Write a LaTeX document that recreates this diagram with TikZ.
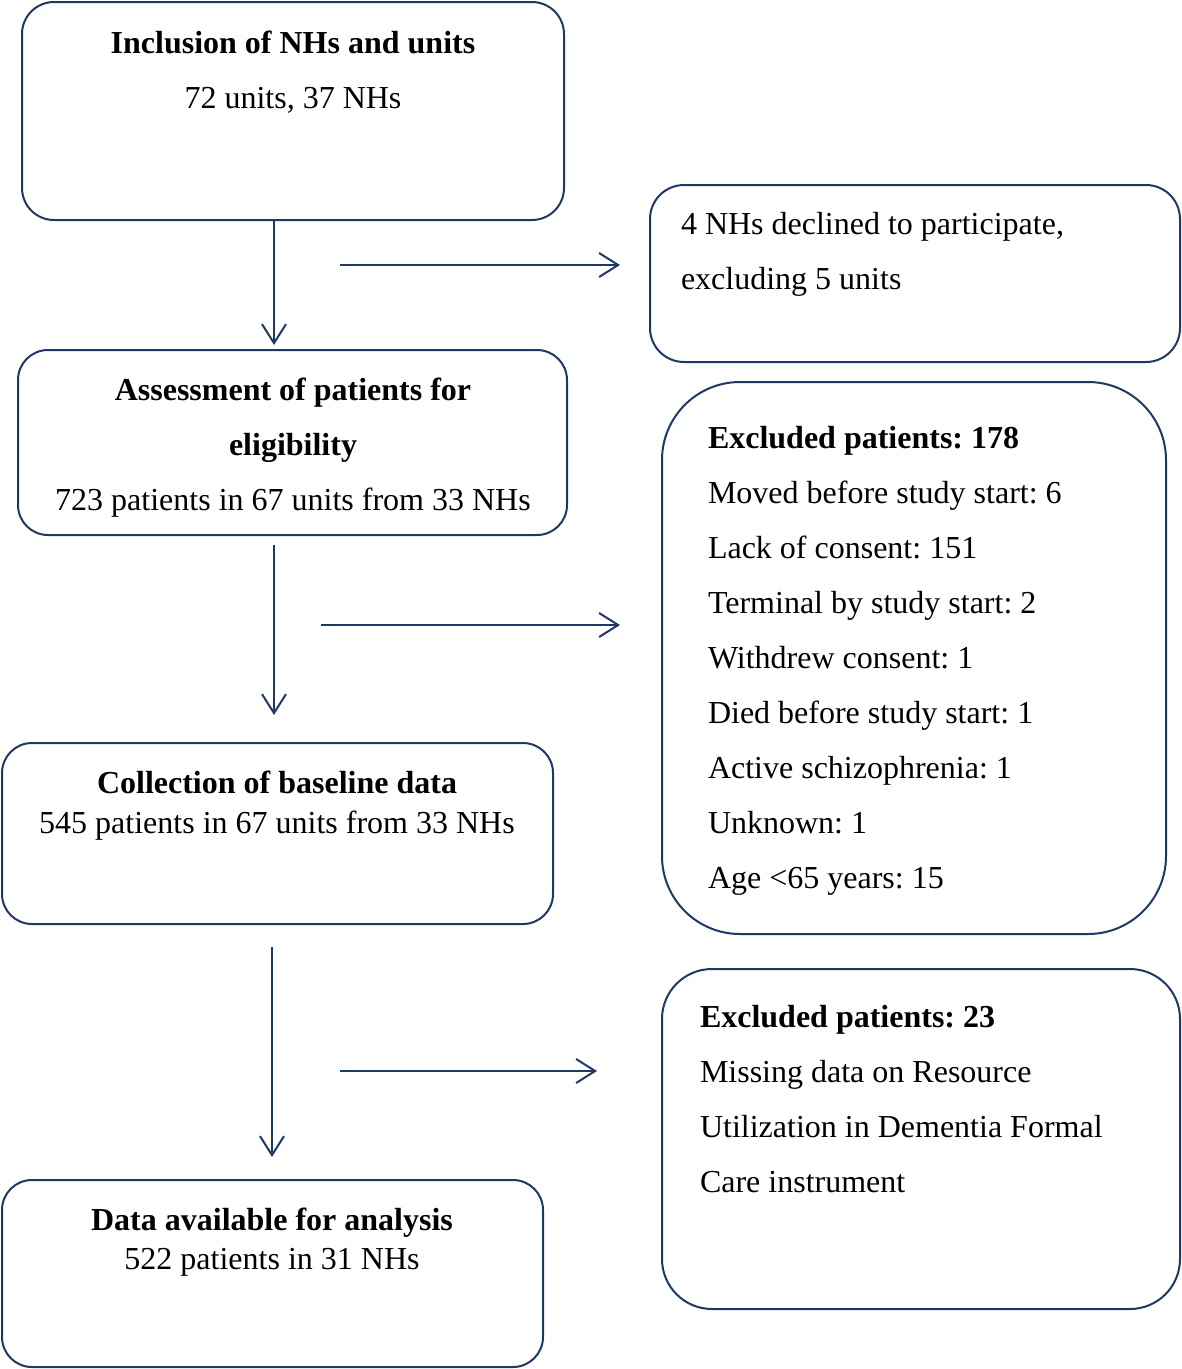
\documentclass[tikz,border=0pt]{standalone}
\usepackage{fontspec}
\setmainfont{Liberation Serif}
\usetikzlibrary{arrows.meta,calc}
\definecolor{navy}{RGB}{31,56,100}
\frenchspacing
\begin{document}
\begin{tikzpicture}[x=1pt,y=-1pt,
  box/.style={draw=navy,line width=2pt,inner sep=0pt,outer sep=0pt,fill=none},
  arr/.style={draw=navy,line width=2pt,-{Straight Barb[length=19pt,width=24pt]}},
  txt/.style={inner sep=0pt,outer sep=0pt,font=\fontsize{32}{38}\selectfont},
  ctr/.style={txt,anchor=base},
  lft/.style={txt,anchor=base west}]
\useasboundingbox (0,0) rectangle (1182,1369);
% boxes
\node[box,rounded corners=32pt,minimum width=542pt,minimum height=218pt] (b1) at (293,111) {};
\node[box,rounded corners=34pt,minimum width=530pt,minimum height=177pt] (b2) at (915,273.5) {};
\node[box,rounded corners=30pt,minimum width=549pt,minimum height=185pt] (b3) at (292.5,442.5) {};
\node[box,rounded corners=78pt,minimum width=504pt,minimum height=552pt] (b4) at (914,658) {};
\node[box,rounded corners=30pt,minimum width=551pt,minimum height=181pt] (b5) at (277.5,833.5) {};
\node[box,rounded corners=50pt,minimum width=518pt,minimum height=340pt] (b6) at (921,1139) {};
\node[box,rounded corners=30pt,minimum width=541pt,minimum height=187pt] (b7) at (272.5,1273.5) {};
% texts
\node[ctr] (t1a) at (293,53) {\bfseries Inclusion of NHs and units};
\node[ctr] (t1b) at (293,108) {72 units, 37 NHs};
\node[lft] (t2a) at (681,234) {4 NHs declined to participate,};
\node[lft] (t2b) at (681,289) {excluding 5 units};
\node[ctr] (t3a) at (293,400) {\bfseries Assessment of patients for};
\node[ctr] (t3b) at (293,455) {\bfseries eligibility};
\node[ctr] (t3c) at (293,510) {723 patients in 67 units from 33 NHs};
\node[lft] (t4a) at (708,448) {\bfseries Excluded patients: 178};
\node[lft] (t4b) at (708,503) {Moved before study start: 6};
\node[lft] (t4c) at (708,558) {Lack of consent: 151};
\node[lft] (t4d) at (708,613) {Terminal by study start: 2};
\node[lft] (t4e) at (708,668) {Withdrew consent: 1};
\node[lft] (t4f) at (708,723) {Died before study start: 1};
\node[lft] (t4g) at (708,778) {Active schizophrenia: 1};
\node[lft] (t4h) at (708,833) {Unknown: 1};
\node[lft] (t4i) at (708,888) {Age <65 years: 15};
\node[ctr] (t5a) at (277,793) {\bfseries Collection of baseline data};
\node[ctr] (t5b) at (277,833) {545 patients in 67 units from 33 NHs};
\node[lft] (t6a) at (700,1027) {\bfseries Excluded patients: 23};
\node[lft] (t6b) at (700,1082) {Missing data on Resource};
\node[lft] (t6c) at (700,1137) {Utilization in Dementia Formal};
\node[lft] (t6d) at (700,1192) {Care instrument};
\node[ctr] (t7a) at (272,1230) {\bfseries Data available for analysis};
\node[ctr] (t7b) at (272,1269) {522 patients in 31 NHs};
% connectors
\coordinate (v1) at (274,0);
\coordinate (v3) at (272,0);
\coordinate (h1) at (340,265);
\coordinate (h2) at (321,625);
\coordinate (h3) at (340,1071);
\draw[arr] (b1.south -| v1) -- ($(b3.north -| v1)+(0,-5)$);
\draw[arr] ($(b3.south -| v1)+(0,10)$) -- ($(b5.north -| v1)+(0,-28)$);
\draw[arr] ($(b5.south -| v3)+(0,23)$) -- ($(b7.north -| v3)+(0,-23)$);
\draw[arr] (h1) -- ($(b2.west |- h1)+(-30,0)$);
\draw[arr] (h2) -- ($(b4.west |- h2)+(-42,0)$);
\draw[arr] (h3) -- ($(b6.west |- h3)+(-65,0)$);
\end{tikzpicture}
\end{document}
